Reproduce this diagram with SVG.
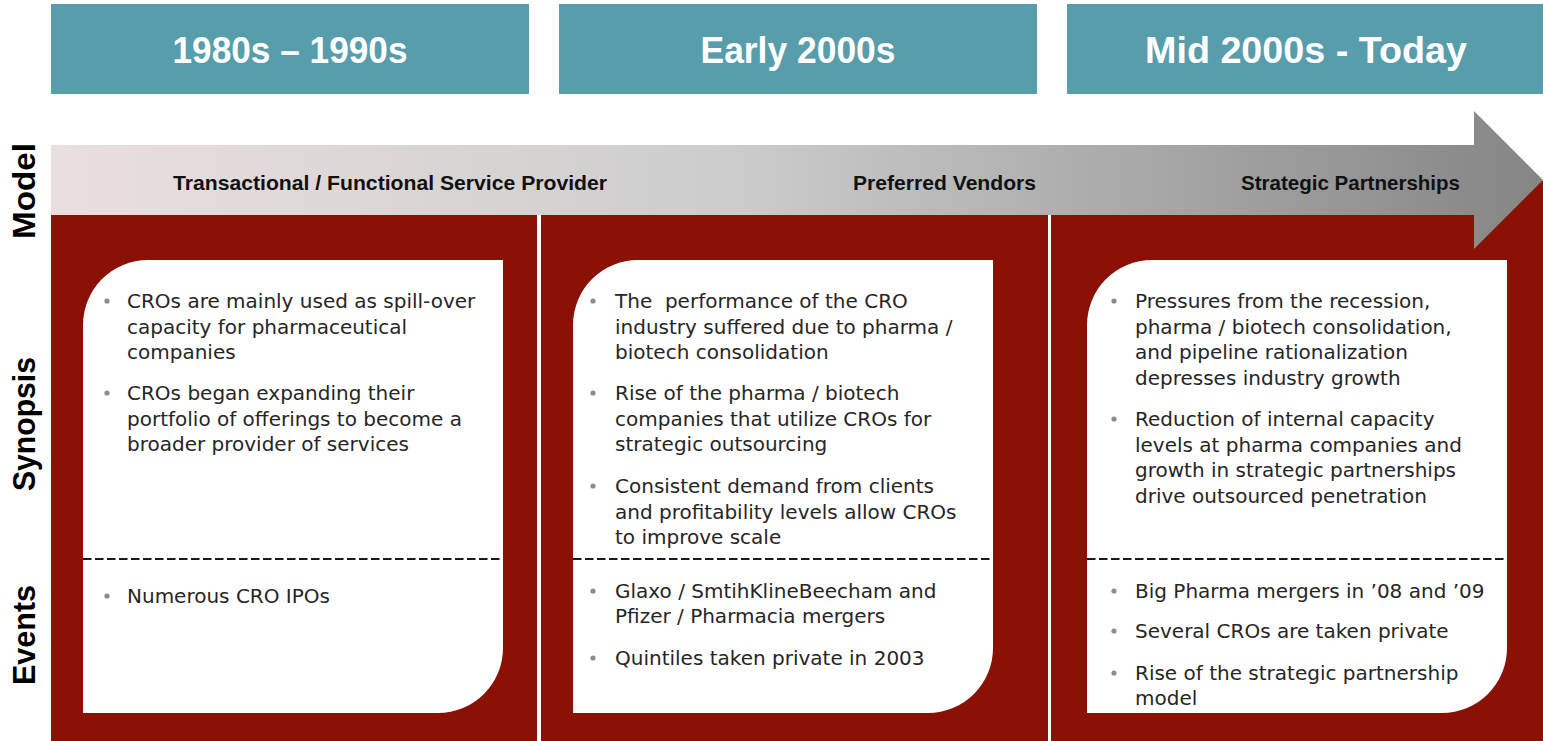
<svg xmlns="http://www.w3.org/2000/svg" width="1543" height="741" viewBox="0 0 1543 741">
  <defs>
    <linearGradient id="arrowFill" gradientUnits="userSpaceOnUse" x1="51" y1="0" x2="1543" y2="0">
      <stop offset="0" stop-color="#eadfdf"/>
      <stop offset="0.45" stop-color="#cdcdcd"/>
      <stop offset="1" stop-color="#858585"/>
    </linearGradient>
    <style>
      .hdr { fill: #589dac; }
      .hdr-text { font-family: "Liberation Sans", Arial, sans-serif; font-weight: bold; font-size: 37px; fill: #ffffff; text-anchor: middle; }
      .band { fill: #8b1006; }
      .card { fill: #ffffff; }
      .sep { stroke: #1a1a1a; stroke-width: 2; stroke-dasharray: 8.5 3.5; fill: none; }
      .body { font-family: "DejaVu Sans", "Liberation Sans", sans-serif; font-size: 20px; fill: #262626; }
      .dot { fill: #8c8c8c; }
      .model { font-family: "Liberation Sans", Arial, sans-serif; font-weight: bold; font-size: 20.5px; fill: #111111; }
      .side { font-family: "Liberation Sans", Arial, sans-serif; font-weight: bold; font-size: 32px; fill: #000000; text-anchor: middle; }
    </style>
  </defs>

  <rect width="1543" height="741" fill="#ffffff"/>

  <!-- era headers -->
  <g id="header-1980s">
    <rect class="hdr" x="51" y="4" width="478" height="90"/>
    <text class="hdr-text" x="290" y="63" textLength="235" lengthAdjust="spacingAndGlyphs">1980s – 1990s</text>
  </g>
  <g id="header-early-2000s">
    <rect class="hdr" x="559" y="4" width="478" height="90"/>
    <text class="hdr-text" x="798" y="63" textLength="195" lengthAdjust="spacingAndGlyphs">Early 2000s</text>
  </g>
  <g id="header-mid-2000s">
    <rect class="hdr" x="1067" y="4" width="476" height="90"/>
    <text class="hdr-text" x="1306" y="63" textLength="322" lengthAdjust="spacingAndGlyphs">Mid 2000s - Today</text>
  </g>

  <!-- dark red column backgrounds -->
  <g id="columns">
    <rect class="band" x="51" y="181" width="486" height="560"/>
    <rect class="band" x="541" y="181" width="507" height="560"/>
    <rect class="band" x="1051" y="181" width="492" height="560"/>
  </g>

  <!-- model progression arrow -->
  <g id="timeline-arrow">
    <path d="M51 145 H1474 V111 L1543 180 L1474 249 V215 H51 Z" fill="url(#arrowFill)"/>
    <text class="model" x="173" y="190" textLength="434" lengthAdjust="spacingAndGlyphs">Transactional / Functional Service Provider</text>
    <text class="model" x="853" y="190" textLength="183" lengthAdjust="spacingAndGlyphs">Preferred Vendors</text>
    <text class="model" x="1241" y="190" textLength="219" lengthAdjust="spacingAndGlyphs">Strategic Partnerships</text>
  </g>

  <!-- row labels -->
  <g id="row-labels">
    <text class="side" transform="translate(35 191) rotate(-90)" textLength="96" lengthAdjust="spacingAndGlyphs">Model</text>
    <text class="side" transform="translate(35 424) rotate(-90)" textLength="134" lengthAdjust="spacingAndGlyphs">Synopsis</text>
    <text class="side" transform="translate(35 635) rotate(-90)" textLength="100" lengthAdjust="spacingAndGlyphs">Events</text>
  </g>

  <!-- card: 1980s – 1990s -->
  <g id="card-1980s">
    <path class="card" d="M148 260 H503 V648 A65 65 0 0 1 438 713 H83 V325 A65 65 0 0 1 148 260 Z"/>
    <line class="sep" x1="83" y1="559" x2="503" y2="559"/>
    <circle class="dot" cx="107" cy="301" r="2.6"/>
    <text class="body" x="127" y="308">CROs are mainly used as spill-over</text>
    <text class="body" x="127" y="333.5">capacity for pharmaceutical</text>
    <text class="body" x="127" y="359">companies</text>
    <circle class="dot" cx="107" cy="393" r="2.6"/>
    <text class="body" x="127" y="400">CROs began expanding their</text>
    <text class="body" x="127" y="425.5">portfolio of offerings to become a</text>
    <text class="body" x="127" y="451">broader provider of services</text>
    <circle class="dot" cx="107" cy="596" r="2.6"/>
    <text class="body" x="127" y="603">Numerous CRO IPOs</text>
  </g>

  <!-- card: early 2000s -->
  <g id="card-early-2000s">
    <path class="card" d="M638 260 H993 V648 A65 65 0 0 1 928 713 H573 V325 A65 65 0 0 1 638 260 Z"/>
    <line class="sep" x1="573" y1="559" x2="993" y2="559"/>
    <circle class="dot" cx="593" cy="301" r="2.6"/>
    <text class="body" x="615" y="308" xml:space="preserve">The  performance of the CRO</text>
    <text class="body" x="615" y="333.5">industry suffered due to pharma /</text>
    <text class="body" x="615" y="359">biotech consolidation</text>
    <circle class="dot" cx="593" cy="393" r="2.6"/>
    <text class="body" x="615" y="400">Rise of the pharma / biotech</text>
    <text class="body" x="615" y="425.5">companies that utilize CROs for</text>
    <text class="body" x="615" y="451">strategic outsourcing</text>
    <circle class="dot" cx="593" cy="486" r="2.6"/>
    <text class="body" x="615" y="493">Consistent demand from clients</text>
    <text class="body" x="615" y="518.5">and profitability levels allow CROs</text>
    <text class="body" x="615" y="544">to improve scale</text>
    <circle class="dot" cx="593" cy="591" r="2.6"/>
    <text class="body" x="615" y="598">Glaxo / SmtihKlineBeecham and</text>
    <text class="body" x="615" y="623">Pfizer / Pharmacia mergers</text>
    <circle class="dot" cx="593" cy="658" r="2.6"/>
    <text class="body" x="615" y="665">Quintiles taken private in 2003</text>
  </g>

  <!-- card: mid 2000s - today -->
  <g id="card-mid-2000s">
    <path class="card" d="M1152 260 H1507 V648 A65 65 0 0 1 1442 713 H1087 V325 A65 65 0 0 1 1152 260 Z"/>
    <line class="sep" x1="1087" y1="559" x2="1507" y2="559"/>
    <circle class="dot" cx="1114" cy="301" r="2.6"/>
    <text class="body" x="1135" y="308">Pressures from the recession,</text>
    <text class="body" x="1135" y="333.5">pharma / biotech consolidation,</text>
    <text class="body" x="1135" y="359">and pipeline rationalization</text>
    <text class="body" x="1135" y="384.5">depresses industry growth</text>
    <circle class="dot" cx="1114" cy="419" r="2.6"/>
    <text class="body" x="1135" y="426">Reduction of internal capacity</text>
    <text class="body" x="1135" y="451.5">levels at pharma companies and</text>
    <text class="body" x="1135" y="477">growth in strategic partnerships</text>
    <text class="body" x="1135" y="502.5">drive outsourced penetration</text>
    <circle class="dot" cx="1114" cy="591" r="2.6"/>
    <text class="body" x="1135" y="598">Big Pharma mergers in ’08 and ’09</text>
    <circle class="dot" cx="1114" cy="631" r="2.6"/>
    <text class="body" x="1135" y="638">Several CROs are taken private</text>
    <circle class="dot" cx="1114" cy="673" r="2.6"/>
    <text class="body" x="1135" y="680">Rise of the strategic partnership</text>
    <text class="body" x="1135" y="705">model</text>
  </g>
</svg>
